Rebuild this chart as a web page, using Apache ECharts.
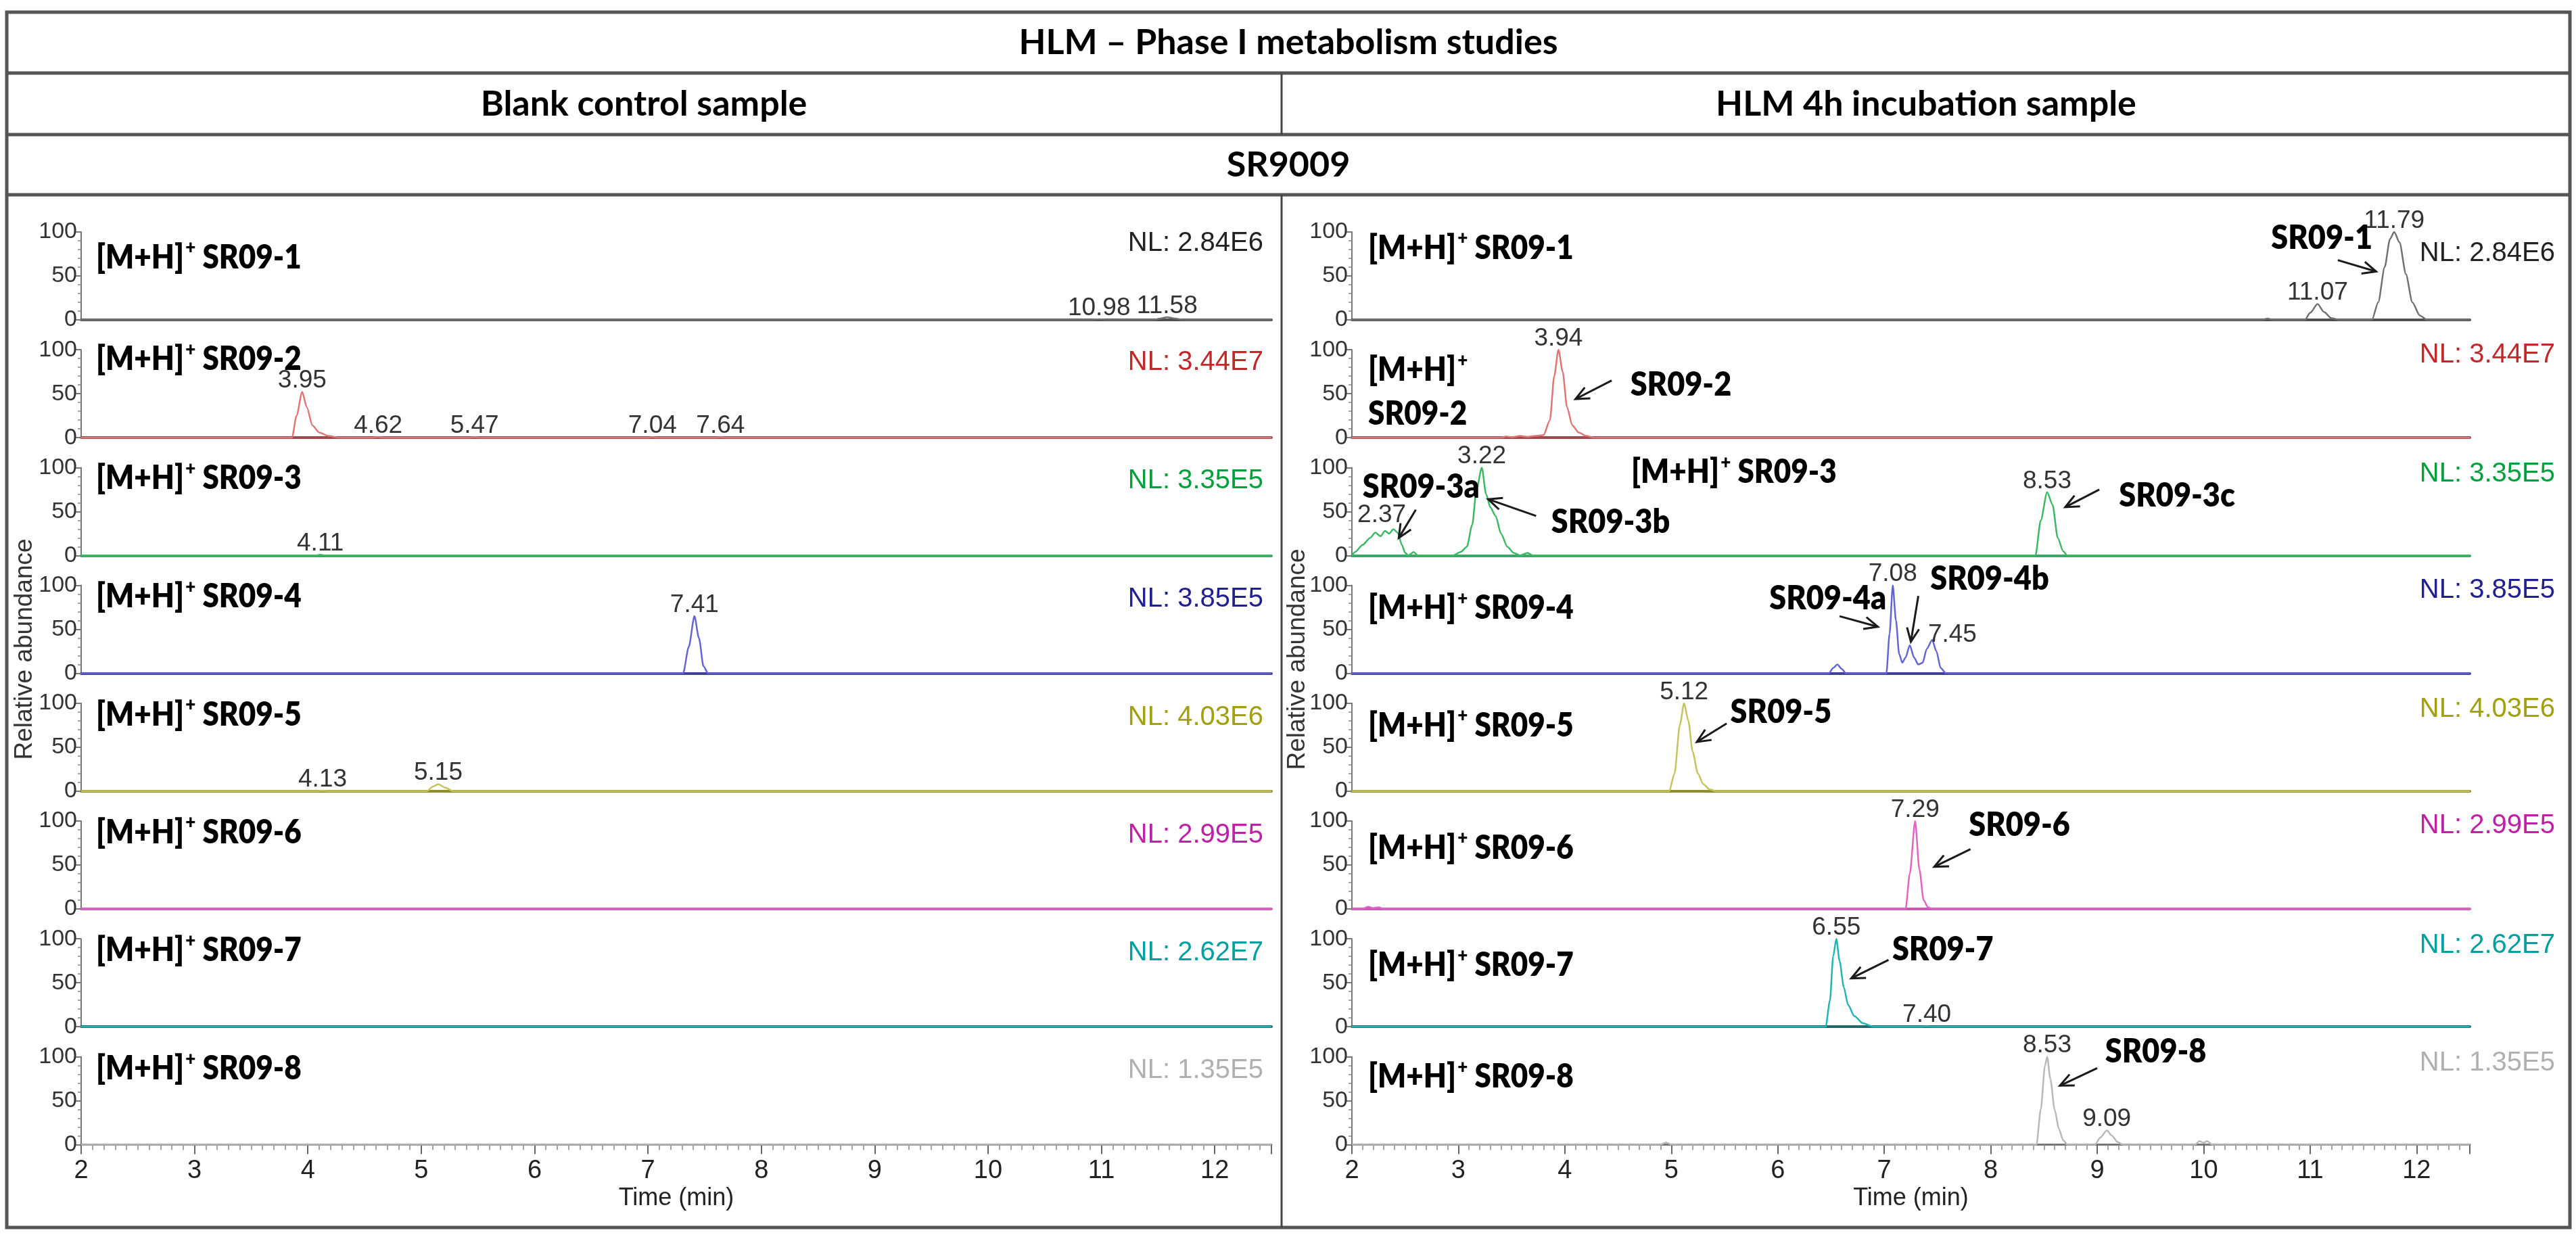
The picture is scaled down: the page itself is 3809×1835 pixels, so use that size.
<!DOCTYPE html>
<html>
<head>
<meta charset="utf-8">
<title>HLM – Phase I metabolism studies</title>
<script src="https://cdn.jsdelivr.net/npm/echarts@6/dist/echarts.min.js"></script>
<style>
  html, body { margin: 0; padding: 0; background: #fff; }
  #chart { width: 3809px; height: 1835px; }
</style>
</head>
<body>
<div id="chart"></div>
<script>
// ---- data ----
var titleText = 'HLM \u2013 Phase I metabolism studies';
var panelTitles = ['Blank control sample', 'HLM 4h incubation sample'];
var compoundName = 'SR9009';
var ionNames = ['SR09-1', 'SR09-2', 'SR09-3', 'SR09-4', 'SR09-5', 'SR09-6', 'SR09-7', 'SR09-8'];
var normLevels = ['2.84E6', '3.44E7', '3.35E5', '3.85E5', '4.03E6', '2.99E5', '2.62E7', '1.35E5'];
var timeTicks = [2, 12.5];

// blank control traces [time (min), relative abundance]
var blank1 = [[2,0],[10.9,0],[10.98,0.8],[11.06,0],[11.46,0],[11.52,1.5],[11.58,3],[11.65,1.5],[11.72,0],[12.5,0]];
var blank2 = [[2,0],[3.86,0],[3.9,25],[3.95,52],[3.99,35],[4.04,14],[4.1,6],[4.18,2],[4.28,0],[4.57,0],[4.62,1],[4.67,0],
              [5.42,0],[5.47,0.8],[5.52,0],[6.99,0],[7.04,0.8],[7.09,0],[7.59,0],[7.64,0.8],[7.69,0],[12.5,0]];
var blank3 = [[2,0],[4.06,0],[4.11,0.8],[4.16,0],[12.5,0]];
var blank4 = [[2,0],[7.31,0],[7.36,30],[7.41,65],[7.45,40],[7.49,8],[7.53,0],[12.5,0]];
var blank5 = [[2,0],[4.08,0],[4.13,0.5],[4.18,0],[5.05,0],[5.1,5],[5.15,8],[5.21,4],[5.28,0],[12.5,0]];
var blank6 = [[2,0],[12.5,0]];
var blank7 = [[2,0],[12.5,0]];
var blank8 = [[2,0],[12.5,0]];

// HLM 4h incubation traces
var hlm1 = [[2,0],[10.55,0],[10.6,1.5],[10.65,0],[10.95,0],[11.0,8],[11.07,18],[11.13,9],[11.2,2],[11.28,0],[11.58,0],[11.64,20],
            [11.7,60],[11.75,92],[11.79,100],[11.84,88],[11.9,52],[11.96,20],[12.03,5],[12.1,0],[12.5,0]];
var hlm2 = [[2,0],[3.4,0],[3.45,1.5],[3.5,0.5],[3.58,2],[3.65,1],[3.72,2],[3.8,3],[3.86,20],[3.9,70],[3.94,100],[3.98,75],
            [4.02,35],[4.07,14],[4.13,6],[4.2,2],[4.28,0],[12.5,0]];
var hlm3 = [[2,0],[2.03,4],[2.1,12],[2.17,20],[2.22,26],[2.27,22],[2.31,28],[2.35,25],[2.39,30],[2.43,26],[2.47,12],[2.5,3],
            [2.53,0],[2.58,4],[2.62,0],[2.95,0],[3.02,4],[3.08,10],[3.13,35],[3.17,75],[3.22,100],[3.26,70],[3.3,55],[3.35,45],
            [3.4,25],[3.46,10],[3.52,3],[3.58,0],[3.65,3],[3.7,0],[8.42,0],[8.47,40],[8.53,72],[8.58,58],[8.63,20],[8.68,5],
            [8.72,0],[12.5,0]];
var hlm4 = [[2,0],[6.48,0],[6.52,6],[6.56,10],[6.6,5],[6.64,0],[7.02,0],[7.05,45],[7.08,100],[7.11,60],[7.14,22],[7.17,12],
            [7.2,18],[7.24,32],[7.28,18],[7.32,10],[7.36,12],[7.4,28],[7.45,38],[7.49,25],[7.53,6],[7.58,0],[12.5,0]];
var hlm5 = [[2,0],[4.98,0],[5.03,20],[5.08,75],[5.12,100],[5.16,80],[5.2,45],[5.25,20],[5.3,8],[5.36,2],[5.42,0],[12.5,0]];
var hlm6 = [[2,0],[2.1,0],[2.15,2.5],[2.2,1],[2.25,2],[2.3,0],[7.2,0],[7.24,40],[7.29,100],[7.33,45],[7.37,10],[7.41,2],
            [7.45,0],[12.5,0]];
var hlm7 = [[2,0],[6.45,0],[6.49,30],[6.52,80],[6.55,100],[6.58,75],[6.62,45],[6.66,25],[6.72,12],[6.8,4],[6.9,0],
            [7.35,0],[7.4,0.5],[7.45,0],[12.5,0]];
var hlm8 = [[2,0],[4.9,0],[4.95,2.5],[5.0,0],[8.43,0],[8.47,40],[8.51,90],[8.53,100],[8.56,75],[8.6,40],[8.64,18],[8.68,5],
            [8.72,0],[8.98,0],[9.03,8],[9.09,16],[9.14,10],[9.19,3],[9.24,0],[9.92,0],[9.96,4],[10.0,2],[10.03,4],[10.08,0],[12.5,0]];

// retention time tags [row, time, abundance, text]
var blankTags = [[0,10.98,0.8,'10.98'],[0,11.58,3,'11.58'],[1,3.95,52,'3.95'],[1,4.62,1,'4.62'],[1,5.47,0.8,'5.47'],
                 [1,7.04,0.8,'7.04'],[1,7.64,0.8,'7.64'],[2,4.11,0.8,'4.11'],[3,7.41,65,'7.41'],[4,4.13,0.5,'4.13'],
                 [4,5.15,8,'5.15']];
var hlmTags = [[0,11.07,18,'11.07'],[0,11.79,100,'11.79'],[1,3.94,100,'3.94'],[2,2.28,33,'2.37'],[2,3.22,100,'3.22'],
               [2,8.53,72,'8.53'],[3,7.08,100,'7.08'],[3,7.64,31,'7.45'],[4,5.12,100,'5.12'],[5,7.29,100,'7.29'],
               [6,6.55,100,'6.55'],[6,7.40,0.5,'7.40'],[7,8.53,100,'8.53'],[7,9.09,16,'9.09']];

// metabolite call-outs [row, text, time, abundance] and arrows [row, t0, a0, t1, a1]
var hlmNotes = [[0,'SR09-1',11.11,93],[1,'SR09-2',5.09,60],[2,'SR09-3a',2.65,78],[2,'SR09-3b',4.43,38],
                [2,'SR09-3c',9.75,68],[3,'SR09-4a',6.47,85],[3,'SR09-4b',7.99,107],[4,'SR09-5',6.03,90],
                [5,'SR09-6',8.27,95],[6,'SR09-7',7.55,88],[7,'SR09-8',9.55,106]];
var hlmArrows = [[0,11.26,68,11.62,55],[1,4.44,65,4.10,44],[2,2.60,52,2.44,20],[2,3.73,45,3.28,64],[2,9.02,75,8.70,55],
                 [3,6.58,65,6.94,53],[3,7.32,88,7.25,36],[4,5.52,77,5.24,56],[5,7.81,68,7.47,48],[6,7.04,76,6.69,55],
                 [7,9.0,87,8.65,67]];

var blankTraces = [blank1, blank2, blank3, blank4, blank5, blank6, blank7, blank8];
var hlmTraces = [hlm1, hlm2, hlm3, hlm4, hlm5, hlm6, hlm7, hlm8];

// ---- styling / layout ----
var traceColors = ['#707070', '#e07575', '#3cb864', '#6464d2', '#c4c45c', '#e064c8', '#22b4b4', '#b8b8b8'];
var baseColors  = ['#505050', '#a04848', '#38a868', '#404094', '#8c8c30', '#c858b4', '#1e6a6a', '#808080'];
var nlColors    = ['#222222', '#c0282a', '#00a03c', '#202090', '#a0a010', '#c020a8', '#00a0a0', '#b0b0b0'];

var ROW_BASE = 473, ROW_STEP = 174.2, ROW_H = 130;
var panels = [
  { left: 120,  width: 1760, nlRight: 1868, labelX: 142,  raX: 37,   raY: 960,
    labelDy: [38, 14, 16, 17, 17, 17, 17, 18], nlDy: [17, 19, 20, 20, 21, 21, 21, 21] },
  { left: 1999, width: 1653, nlRight: 3778, labelX: 2023, raX: 1919, raY: 975,
    labelDy: [24, 30, 7, 34, 33, 40, 39, 30], nlDy: [32, 8, 10, 7, 9, 7, 10, 10] }
];
var SANS = 'Liberation Sans';
var BOLD = 'Lato';
var LABEL_FONT = '800 44px ' + BOLD;
var SUP_FONT = '800 26px ' + BOLD;
var NOTE_FONT = '800 45px ' + BOLD;

function rowTop(r) { return ROW_BASE + ROW_STEP * r - ROW_H; }

var grids = [], xAxes = [], yAxes = [], series = [];
[blankTraces, hlmTraces].forEach(function (traces, p) {
  traces.forEach(function (data, r) {
    var idx = p * 8 + r;
    var last = r === 7;
    grids.push({ left: panels[p].left, width: panels[p].width, top: rowTop(r), height: ROW_H });
    xAxes.push({
      type: 'value', gridIndex: idx, min: timeTicks[0], max: timeTicks[1], interval: 1,
      axisLine: { show: true, onZero: false, lineStyle: { color: last ? '#777' : baseColors[r], width: last ? 3 : 4 } },
      axisTick: { show: last, length: 14, lineStyle: { color: '#666', width: 2 } },
      minorTick: { show: last, splitNumber: 10, length: 8, lineStyle: { color: '#888', width: 1.5 } },
      axisLabel: { show: last, showMaxLabel: false, fontFamily: SANS, fontSize: 38, color: '#222', margin: 20 },
      splitLine: { show: false },
      name: last ? 'Time (min)' : '', nameLocation: 'middle', nameGap: 62,
      nameTextStyle: { fontFamily: SANS, fontSize: 36, color: '#222' }
    });
    yAxes.push({
      type: 'value', gridIndex: idx, min: 0, max: 100, interval: 50,
      axisLine: { show: true, lineStyle: { color: '#777', width: 2 } },
      axisTick: { show: true, length: 8, lineStyle: { color: '#777', width: 2 } },
      minorTick: { show: true, splitNumber: 5, length: 5, lineStyle: { color: '#888', width: 1.5 } },
      axisLabel: { fontFamily: SANS, fontSize: 34, color: '#333', margin: 6 },
      splitLine: { show: false }
    });
    series.push({
      type: 'line', xAxisIndex: idx, yAxisIndex: idx, data: data,
      showSymbol: false, smooth: 0.25, smoothMonotone: 'x',
      lineStyle: { color: traceColors[r], width: 2.5 }, z: 3, silent: true, animation: false
    });
  });
});

var chart = echarts.init(document.getElementById('chart'));
chart.setOption({
  backgroundColor: '#fff', animation: false,
  grid: grids, xAxis: xAxes, yAxis: yAxes, series: series
});

// ---- overlay: table frame, headers, labels, call-outs ----
var g = [];
var measureCtx = document.createElement('canvas').getContext('2d');
function textWidth(str, font) { measureCtx.font = font; return measureCtx.measureText(str).width; }

function text(x, y, str, font, fill, align, valign, sy) {
  g.push({ type: 'text', x: x, y: y, z: 10, silent: true, scaleY: sy || 1,
    style: { text: str, font: font, fill: fill, align: align, verticalAlign: valign,
             textAlign: align, textVerticalAlign: valign } });
}
function line(x1, y1, x2, y2, color, w) {
  g.push({ type: 'line', z: 10, silent: true, shape: { x1: x1, y1: y1, x2: x2, y2: y2 },
           style: { stroke: color, lineWidth: w } });
}
function arrow(p0, p1) {
  var dx = p1[0] - p0[0], dy = p1[1] - p0[1], len = Math.sqrt(dx * dx + dy * dy);
  var ux = dx / len, uy = dy / len, L = 20, W = 9;
  line(p0[0], p0[1], p1[0], p1[1], '#1a1a1a', 3);
  g.push({ type: 'polyline', z: 10, silent: true,
    shape: { points: [[p1[0] - ux * L - uy * W, p1[1] - uy * L + ux * W], p1,
                      [p1[0] - ux * L + uy * W, p1[1] - uy * L - ux * W]] },
    style: { stroke: '#1a1a1a', lineWidth: 3, fill: 'none' } });
}
// "[M+H]+ name" with a raised plus sign
function ionLabel(x, y, name, wrap) {
  var w = textWidth('[M+H]', LABEL_FONT);
  text(x, y, '[M+H]', LABEL_FONT, '#000', 'left', 'middle', 1.12);
  text(x + w + 2, y - 15, '+', SUP_FONT, '#000', 'left', 'middle', 1.12);
  if (wrap) {
    text(x, y + 65, name, LABEL_FONT, '#000', 'left', 'middle', 1.12);
  } else {
    text(x + w + 2 + textWidth('+', SUP_FONT), y, ' ' + name, LABEL_FONT, '#000', 'left', 'middle', 1.12);
  }
}
function px(p, r, t, a) { return chart.convertToPixel({ gridIndex: p * 8 + r }, [t, a]); }

// frame
g.push({ type: 'rect', z: 10, silent: true, shape: { x: 10, y: 18, width: 3790, height: 1797 },
         style: { fill: 'none', stroke: '#555', lineWidth: 5 } });
line(10, 108, 3800, 108, '#555', 5);
line(10, 199, 3800, 199, '#555', 5);
line(10, 288, 3800, 288, '#555', 5);
line(1895, 108, 1895, 199, '#444', 3);
line(1895, 288, 1895, 1815, '#444', 3);

var headFont = 'bold 52px ' + BOLD;
text(1905, 63, titleText, headFont, '#000', 'center', 'middle');
text(952, 154, panelTitles[0], headFont, '#000', 'center', 'middle');
text(2848, 154, panelTitles[1], headFont, '#000', 'center', 'middle');
text(1905, 244, compoundName, headFont, '#000', 'center', 'middle');

panels.forEach(function (pn, p) {
  // y axis title
  g.push({ type: 'text', x: pn.raX, y: pn.raY, rotation: Math.PI / 2, z: 10, silent: true,
    style: { text: 'Relative abundance', font: '37px ' + SANS, fill: '#333',
             align: 'center', verticalAlign: 'middle', textAlign: 'center', textVerticalAlign: 'middle' } });
  ionNames.forEach(function (nm, r) {
    var top = rowTop(r);
    var lx = (p === 1 && r === 2) ? 2412 : pn.labelX;
    ionLabel(lx, top + pn.labelDy[r], nm, p === 1 && r === 1);
    text(pn.nlRight, top + pn.nlDy[r], 'NL: ' + normLevels[r], '40px ' + SANS, nlColors[r], 'right', 'middle');
  });
});

[blankTags, hlmTags].forEach(function (tags, p) {
  tags.forEach(function (tg) {
    var pt = px(p, tg[0], tg[1], tg[2]);
    text(pt[0], pt[1] + 2, tg[3], '37px ' + SANS, '#333', 'center', 'bottom');
  });
});

hlmNotes.forEach(function (n) {
  var pt = px(1, n[0], n[2], n[3]);
  text(pt[0], pt[1], n[1], NOTE_FONT, '#000', 'center', 'middle', 1.1);
});
hlmArrows.forEach(function (a) {
  arrow(px(1, a[0], a[1], a[2]), px(1, a[0], a[3], a[4]));
});

chart.setOption({ graphic: { elements: g } });

window.onresize = function () { chart.resize(); };
</script>
</body>
</html>
